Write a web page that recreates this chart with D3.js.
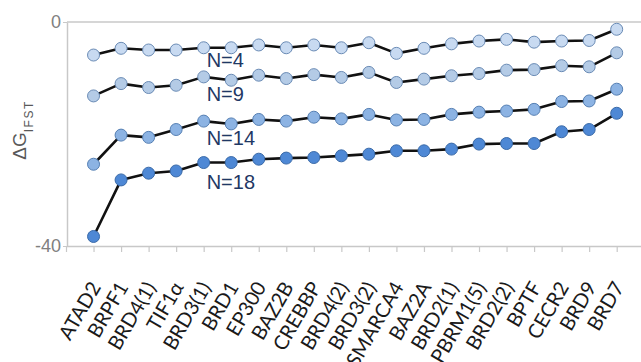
<!DOCTYPE html>
<html>
<head>
<meta charset="utf-8">
<script src="https://cdn.jsdelivr.net/npm/d3@7/dist/d3.min.js"></script>
<style>
  html, body { margin: 0; padding: 0; background: #fff; }
  svg { display: block; }
</style>
</head>
<body>
<svg id="chart" width="641" height="362"></svg>
<script>
// Bromodomain targets along the x axis
const categories = ["ATAD2", "BRPF1", "BRD4(1)", "TIF1\u03b1", "BRD3(1)", "BRD1", "EP300", "BAZ2B",
  "CREBBP", "BRD4(2)", "BRD3(2)", "SMARCA4", "BAZ2A", "BRD2(1)", "PBRM1(5)", "BRD2(2)",
  "BPTF", "CECR2", "BRD9", "BRD7"];

// ΔG_IFST for each water-cluster size N
const seriesN4 = [-5.9, -4.7, -5.0, -5.0, -4.6, -4.6, -4.1, -4.6, -4.1, -4.6, -3.7, -5.6, -4.7, -3.9, -3.4, -3.1, -3.6, -3.4, -3.3, -1.3];
const seriesN9 = [-13.2, -11.0, -11.7, -11.3, -9.8, -10.4, -9.5, -10.1, -9.4, -9.9, -9.0, -10.8, -10.2, -9.6, -9.2, -8.6, -8.5, -7.8, -8.0, -5.5];
const seriesN14 = [-25.4, -20.2, -20.6, -19.2, -17.7, -18.2, -17.4, -17.7, -17.0, -17.3, -16.5, -17.5, -17.4, -16.5, -16.1, -15.9, -15.6, -14.2, -14.1, -12.0];
const seriesN18 = [-38.3, -28.2, -27.0, -26.6, -25.1, -25.1, -24.5, -24.3, -24.2, -23.9, -23.6, -23.0, -23.0, -22.7, -21.8, -21.7, -21.7, -19.6, -19.2, -16.3];

const seriesNames = ["N=4", "N=9", "N=14", "N=18"];
const yTicks = [0, -40];

const series = [
  { name: seriesNames[0], values: seriesN4, fill: "#c8daf1", stroke: "#6a8bb5" },
  { name: seriesNames[1], values: seriesN9, fill: "#b4cbe6", stroke: "#6a8bb5" },
  { name: seriesNames[2], values: seriesN14, fill: "#8cb3e3", stroke: "#557fb3" },
  { name: seriesNames[3], values: seriesN18, fill: "#4e88d5", stroke: "#3a6aa8" }
];

const svg = d3.select("#chart");
const plotLeft = 67, plotRight = 641, plotTop = 22, plotBottom = 246;

const x = d3.scaleLinear().domain([-1, categories.length - 1]).range([66, 616.7]);
const y = d3.scaleLinear().domain([-40, 0]).range([plotBottom, plotTop]);

const frame = "#c8c8c8";

// plot frame: top edge
svg.append("line")
  .attr("x1", plotLeft).attr("x2", plotRight)
  .attr("y1", plotTop).attr("y2", plotTop)
  .attr("stroke", frame).attr("stroke-width", 1.5);

// category axis with ticks at each target
const xAxis = d3.axisBottom(x)
  .tickValues(d3.range(-1, categories.length))
  .tickSize(6)
  .tickSizeOuter(0)
  .tickFormat("");
const gx = svg.append("g").attr("transform", `translate(0,${plotBottom})`).call(xAxis);
gx.select(".domain").attr("d", `M${plotLeft},0.5H${plotRight}`).attr("stroke", frame).attr("stroke-width", 1.5);
gx.selectAll(".tick line").attr("stroke", frame).attr("stroke-width", 1.2);

// value axis (plain hyphen for negatives)
const yAxis = d3.axisLeft(y).tickValues(yTicks).tickSize(4).tickSizeOuter(0).tickFormat(d => String(d));
const gy = svg.append("g").attr("transform", `translate(${plotLeft},0)`).call(yAxis);
gy.select(".domain").attr("stroke", frame).attr("stroke-width", 1.5);
gy.selectAll(".tick line").attr("stroke", frame);
gy.selectAll(".tick text")
  .attr("x", -6)
  .attr("fill", "#808080")
  .style("font-family", "'Liberation Sans', Arial, sans-serif")
  .style("font-size", "18px");

// rotated category labels
svg.append("g").selectAll("text")
  .data(categories)
  .join("text")
  .attr("transform", (d, i) => `translate(${x(i) + 8},${plotBottom + 41}) rotate(-60)`)
  .attr("text-anchor", "end")
  .attr("fill", "#1a1a1a")
  .style("font-family", "Lato, 'Open Sans', sans-serif")
  .style("font-size", "20px")
  .text(d => d);

// y axis title ΔG with IFST subscript
const yTitle = svg.append("text")
  .attr("transform", `translate(26,130) rotate(-90)`)
  .attr("text-anchor", "middle")
  .attr("fill", "#595959")
  .style("font-family", "'Liberation Sans', Arial, sans-serif")
  .style("font-size", "19px");
yTitle.append("tspan").text("\u0394G");
yTitle.append("tspan").attr("dy", 7).style("font-size", "12px").style("letter-spacing", "1.5px").text("IFST");

// lines and markers
const line = d3.line().x((d, i) => x(i)).y(d => y(d));

const gs = svg.append("g").selectAll("g")
  .data(series)
  .join("g");

gs.append("path")
  .attr("d", d => line(d.values))
  .attr("fill", "none")
  .attr("stroke", "#111")
  .attr("stroke-width", 2.6)
  .attr("stroke-linejoin", "round");

gs.selectAll("circle")
  .data(d => d.values.map(v => ({ v, s: d })))
  .join("circle")
  .attr("cx", (d, i) => x(i))
  .attr("cy", d => y(d.v))
  .attr("r", 6)
  .attr("fill", d => d.s.fill)
  .attr("stroke", d => d.s.stroke)
  .attr("stroke-width", 1);

// series labels placed under the BRD1 marker of each line
const labelOffsets = [19, 21, 21, 26];
svg.append("g").selectAll("text")
  .data(series)
  .join("text")
  .attr("x", x(4) + 3)
  .attr("y", (d, i) => y(d.values[5]) + labelOffsets[i])
  .attr("fill", "#1f3864")
  .style("font-family", "'Liberation Sans', Arial, sans-serif")
  .style("font-size", "20px")
  .text(d => d.name);
</script>
</body>
</html>
